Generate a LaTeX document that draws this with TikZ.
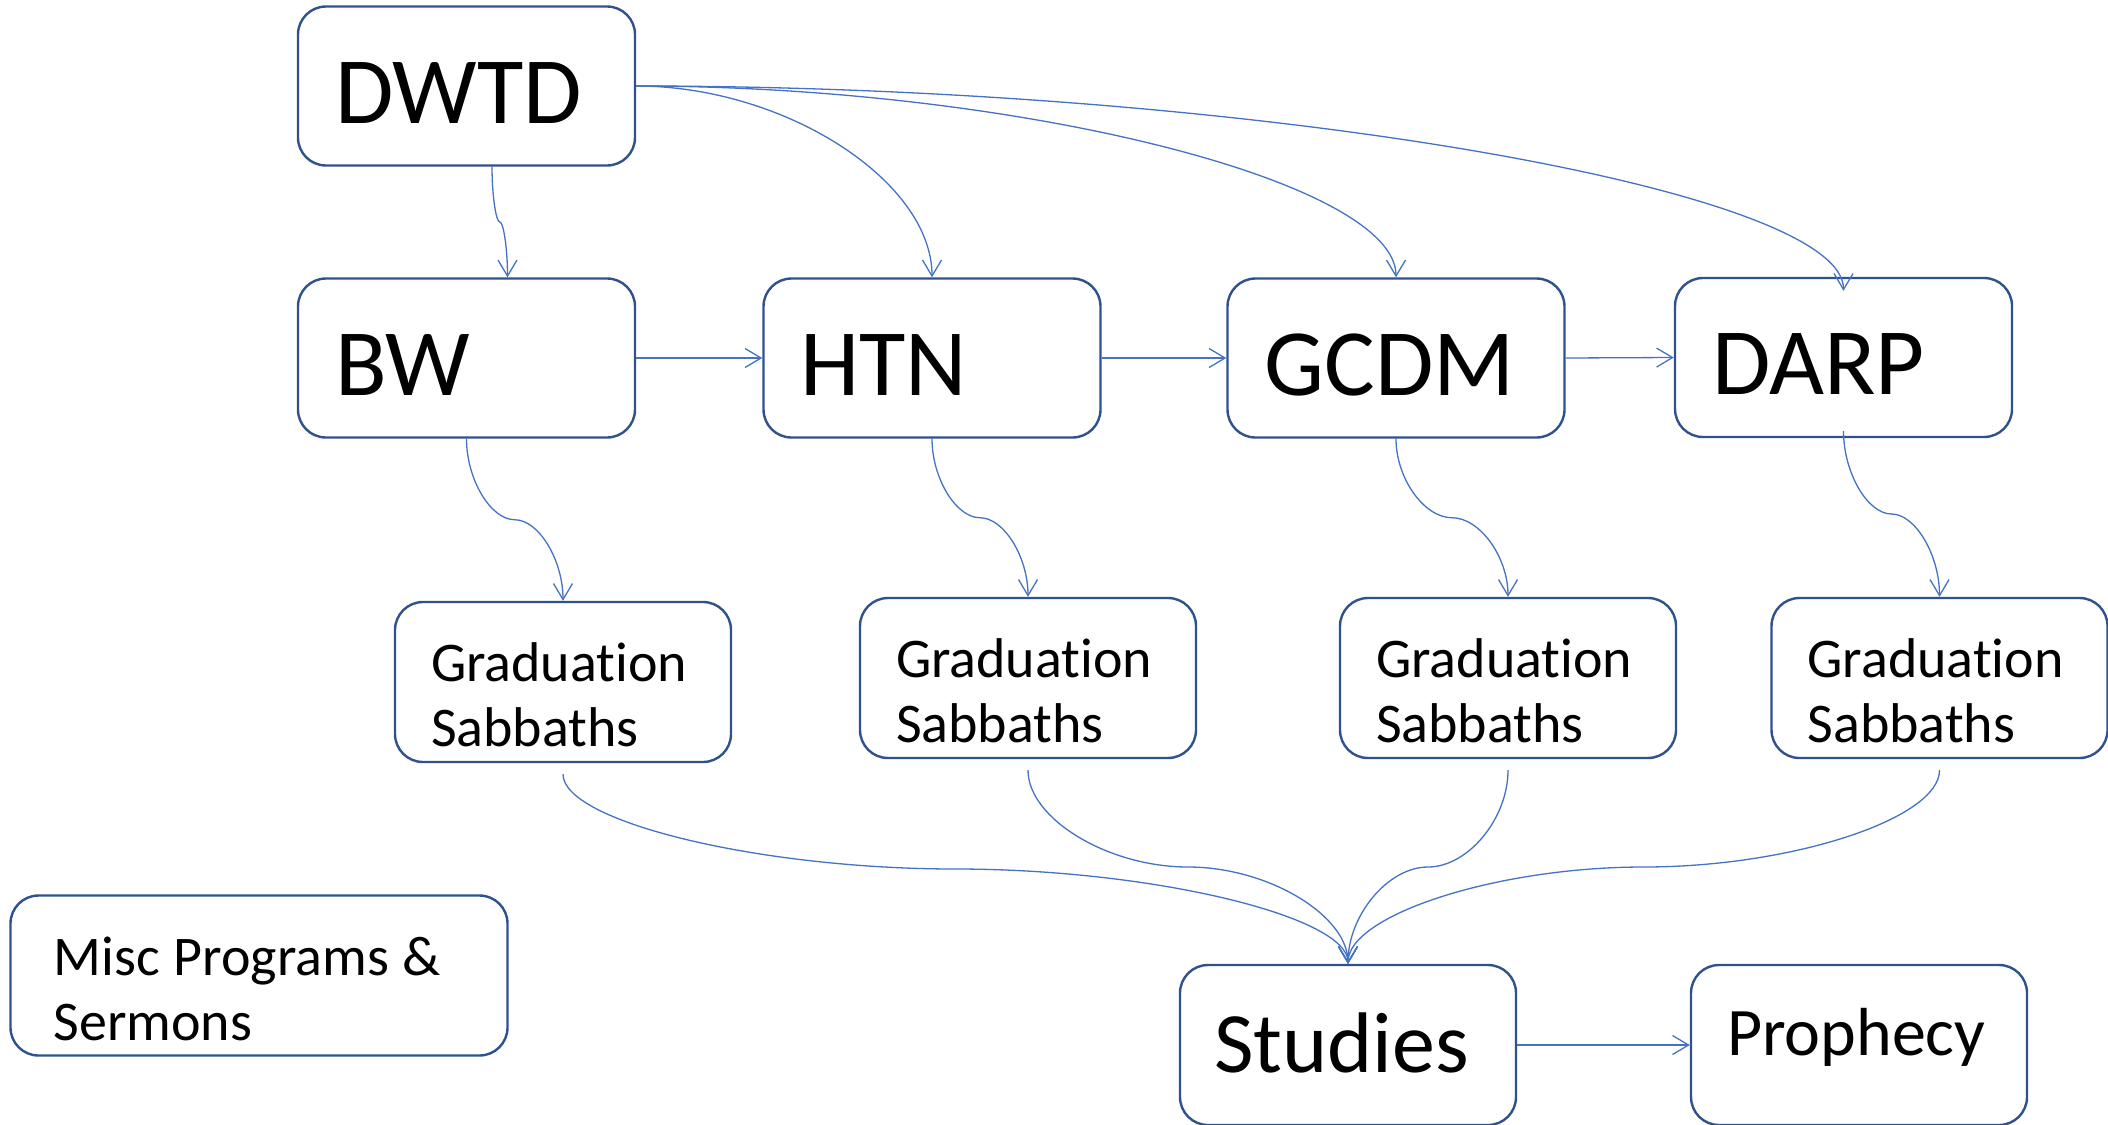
\documentclass[tikz,border=0pt]{standalone}
\usepackage{fontspec}
\setmainfont{Carlito}[Ligatures=NoCommon]
\usetikzlibrary{arrows.meta,calc}
\definecolor{boxblue}{HTML}{2F528F}
\definecolor{linkblue}{HTML}{4472C4}
\newcommand{\sconnector}[2]{%
  \draw[link] let \p1=(#1), \p2=(#2) in (\p1)
    .. controls (\x1,{(3*\y1+\y2)/4}) and ({(3*\x1+\x2)/4},{(\y1+\y2)/2}) ..
    ({(\x1+\x2)/2},{(\y1+\y2)/2})
    .. controls ({(\x1+3*\x2)/4},{(\y1+\y2)/2}) and (\x2,{(\y1+3*\y2)/4}) .. (\p2);}
\begin{document}
\begin{tikzpicture}[x=1pt,y=-1pt,
  box/.style={draw=boxblue, line width=2.4pt, rounded corners=28pt, fill=white,
    inner sep=0pt, align=left},
  bigbox/.style={box, minimum width=337pt, minimum height=159pt, text width=263pt,
    text height=74pt, text depth=0pt, font=\fontsize{95}{114}\selectfont},
  gradbox/.style={box, minimum width=336pt, minimum height=160pt, text width=264pt,
    text height=60pt, text depth=62pt, font=\fontsize{56}{65}\selectfont},
  link/.style={draw=linkblue, line width=1.3pt,
    -{Straight Barb[length=16pt,width=19pt]}}]
\useasboundingbox (0,0) rectangle (2108,1124);
\clip (0,0) rectangle (2108,1124);
% top row
\node[bigbox] (dwtd) at (466.5,86) {DWTD};
\node[bigbox] (bw) at (466.5,358) {BW};
\node[bigbox] (htn) at (932,358) {HTN};
\node[bigbox] (gcdm) at (1396,358) {GCDM};
\node[bigbox] (darp) at (1843.5,357.5) {DARP};
% graduation sabbaths
\node[gradbox] (bwg) at (563,682) {\begin{tabular}[t]{@{}l@{}}Graduation\\Sabbaths\end{tabular}};
\node[gradbox] (htng) at (1028,678) {\begin{tabular}[t]{@{}l@{}}Graduation\\Sabbaths\end{tabular}};
\node[gradbox] (gcdmg) at (1508,678) {\begin{tabular}[t]{@{}l@{}}Graduation\\Sabbaths\end{tabular}};
\node[gradbox] (darpg) at (1939.5,678) {\begin{tabular}[t]{@{}l@{}}Graduation\\Sabbaths\end{tabular}};
% bottom
\node[box, minimum width=497pt, minimum height=160pt, text width=411pt,
  text height=60pt, text depth=60pt, font=\fontsize{56}{65}\selectfont]
  (misc) at (259,975.5) {\begin{tabular}[t]{@{}l@{}}\spaceskip=0.246em\relax Misc Programs \&\\Sermons\end{tabular}};
\node[box, minimum width=336pt, minimum height=160pt, text width=268pt,
  text height=54pt, text depth=0pt, font=\fontsize{86}{100}\selectfont]
  (studies) at (1348,1045) {Studies};
\node[box, minimum width=336pt, minimum height=160pt, text width=264pt,
  text height=20pt, text depth=0pt, font=\fontsize{68}{80}\selectfont]
  (prophecy) at (1859,1045) {Prophecy};
% connectors from DWTD
\sconnector{[xshift=25.5pt]dwtd.south}{[xshift=41pt]bw.north}
\draw[link] (dwtd.east) .. controls +(149,0) and +(0,-96) .. (htn.north);
\draw[link] (dwtd.east) .. controls +(380,0) and +(0,-96) .. (gcdm.north);
\draw[link] (dwtd.east) .. controls +(604,0) and +(0,-103) .. ([yshift=-14pt]darp.north);
% row arrows
\draw[link] (bw.east) -- (htn.west);
\draw[link] (htn.east) -- (gcdm.west);
\draw[link] (gcdm.east) -- (darp.west);
% to graduation boxes
\sconnector{bw.south}{bwg.north}
\sconnector{htn.south}{htng.north}
\sconnector{gcdm.south}{gcdmg.north}
\sconnector{[yshift=7pt]darp.south}{darpg.north}
% to studies
\sconnector{[yshift=-11pt]bwg.south}{studies.north}
\sconnector{[yshift=-11pt]htng.south}{studies.north}
\sconnector{[yshift=-11pt]gcdmg.south}{studies.north}
\sconnector{[yshift=-11pt]darpg.south}{studies.north}
\draw[link] (studies.east) -- (prophecy.west);
\end{tikzpicture}
\end{document}
